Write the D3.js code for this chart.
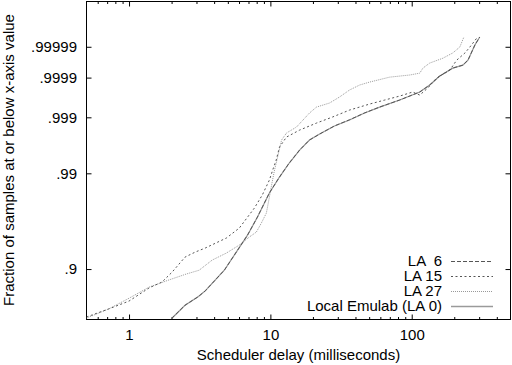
<!DOCTYPE html>
<html><head><meta charset="utf-8">
<script src="https://cdn.jsdelivr.net/npm/d3@7/dist/d3.min.js"></script>
<style>
body{margin:0;background:#fff}
svg{display:block;font-family:"Liberation Sans",Arial,Helvetica,sans-serif}
</style>
</head><body>
<svg id="chart" width="512" height="365"></svg>
<script>
// ---- data (x = scheduler delay in ms, p = fraction of samples at or below x) ----
const la6 = [
  [2.0,0.800],[2.49,0.830],[3.08,0.848],[3.46,0.860],[4.72,0.898],[6.87,0.947],
  [8.09,0.965],[9.84,0.9816],[11.6,0.9887],[13.6,0.9930],[16.1,0.99570],[18.9,0.99715],
  [22.3,0.99780],[28.4,0.99848],[36.3,0.99887],[46.4,0.99920],[59.3,0.999413],
  [82.2,0.999602],[114,0.999751],[134,0.999838],[158,0.999910],[195,0.999948],
  [230,0.999958],[250,0.999971],[280,0.9999914],[303,0.9999957]
];
const la15 = [
  [0.5,0.8035],[0.72,0.822],[1.0,0.839],[1.39,0.866],[1.71,0.877],[2.02,0.895],
  [2.49,0.9188],[2.94,0.926],[3.46,0.9315],[4.88,0.944],[6.03,0.9549],[7.70,0.9721],
  [8.77,0.9805],[9.84,0.98755],[10.5,0.99164],[11.0,0.99372],[11.6,0.99619],[13.0,0.99749],
  [16.1,0.99816],[21.2,0.998676],[27.5,0.999014],[36.3,0.999311],[50.4,0.999502],
  [64.4,0.999602],[82.2,0.999683],[101.6,0.999751],[114,0.999701],[130,0.999805],
  [150,0.999897],[186,0.999940],[208,0.999971],[238,0.9999834],[258,0.9999898],[289,0.9999953]
];
const la27 = [
  [0.5,0.801],[0.72,0.822],[1.0,0.845],[1.39,0.8675],[1.92,0.881],[2.54,0.8915],
  [3.13,0.898],[3.88,0.9144],[4.88,0.9246],[6.03,0.9354],[7.10,0.9452],[7.96,0.9507],
  [8.63,0.9597],[9.37,0.9684],[9.84,0.9793],[10.2,0.98545],[10.7,0.99105],[11.0,0.9930],
  [12.0,0.99715],[13.0,0.99790],[15.3,0.99840],[18.9,0.999195],[21.2,0.999413],
  [26.2,0.999529],[30.8,0.999664],[36.3,0.999779],[42.8,0.999838],[50.4,0.999866],
  [69.8,0.999903],[96.8,0.999916],[114,0.999926],[120,0.999948],[134,0.999964],
  [166,0.999975],[195,0.9999834],[219,0.9999898],[234,0.9999957]
];
const local0 = [
  [2.0,0.800],[2.49,0.830],[3.08,0.848],[3.46,0.860],[4.72,0.898],[6.87,0.947],
  [8.09,0.965],[9.84,0.9816],[11.6,0.9887],[13.6,0.9930],[16.1,0.99570],[18.9,0.99715],
  [22.3,0.99780],[28.4,0.99848],[36.3,0.998857],[46.4,0.999195],[59.3,0.999413],
  [82.2,0.999602],[114,0.999751],[134,0.999838],[158,0.999910],[195,0.999948],
  [230,0.999958],[250,0.999971],[280,0.9999914],[303,0.9999957]
];
const seriesNames = ["LA  6", "LA 15", "LA 27", "Local Emulab (LA 0)"];
const xMajorTicks = [1, 10, 100];
const xMinorTicks = [0.6,0.7,0.8,0.9,2,3,4,5,6,7,8,9,20,30,40,50,60,70,80,90,200,300,400];
const yTickFractions = [0.9, 0.99, 0.999, 0.9999, 0.99999];
const yTickLabels = [".9", ".99", ".999", ".9999", ".99999"];
const xDomain = [0.5, 500];
const yNinesDomain = [0.694, 6.94];   // -log10(1-p) at bottom and top of the frame

// ---- layout ----
const L = 86.5, R = 510.5, T = 1.5, B = 319.5;
const svg = d3.select("#chart");
const nines = p => -Math.log10(1 - p);
const x = d3.scaleLog().domain(xDomain).range([L, R]);
const yN = d3.scaleLog().domain(yNinesDomain).range([B, T]);
const y = p => yN(nines(p));

svg.append("rect").attr("width",512).attr("height",365).attr("fill","#fff");

svg.append("defs").append("clipPath").attr("id","clip")
  .append("rect").attr("x",L).attr("y",T).attr("width",R-L).attr("height",B-T);

function styleAxis(g){
  g.select(".domain").remove();
  g.selectAll("line").attr("stroke","#000").attr("stroke-width",1);
  g.selectAll("text").attr("font-size",15).attr("fill","#000")
   .attr("font-family",'"Liberation Sans",Arial,sans-serif');
}
// bottom axis
svg.append("g").attr("transform",`translate(0,${B})`)
  .call(d3.axisBottom(x).tickValues(xMajorTicks).tickFormat(d3.format("d")).tickSize(-5).tickPadding(10))
  .call(styleAxis);
svg.append("g").attr("transform",`translate(0,${B})`)
  .call(d3.axisBottom(x).tickValues(xMinorTicks).tickFormat("").tickSize(-2.5))
  .call(styleAxis);
// top axis (mirror)
svg.append("g").attr("transform",`translate(0,${T})`)
  .call(d3.axisTop(x).tickValues(xMajorTicks).tickFormat("").tickSize(-5))
  .call(styleAxis);
svg.append("g").attr("transform",`translate(0,${T})`)
  .call(d3.axisTop(x).tickValues(xMinorTicks).tickFormat("").tickSize(-2.5))
  .call(styleAxis);
// left axis
svg.append("g").attr("transform",`translate(${L},0)`)
  .call(d3.axisLeft(yN).tickValues(yTickFractions.map(nines))
     .tickFormat((d,i)=>yTickLabels[i]).tickSize(-5).tickPadding(9.5))
  .call(styleAxis);
// right axis (mirror)
svg.append("g").attr("transform",`translate(${R},0)`)
  .call(d3.axisRight(yN).tickValues(yTickFractions.map(nines)).tickFormat("").tickSize(-5))
  .call(styleAxis);

// frame
svg.append("rect").attr("x",L).attr("y",T).attr("width",R-L).attr("height",B-T)
  .attr("fill","none").attr("stroke","#000").attr("stroke-width",1);

// lines
const lineStyles = [
  {stroke:"#555", dash:"4,2",   w:1},
  {stroke:"#555", dash:"2,2.5", w:1},
  {stroke:"#999", dash:"1,1",   w:1},
  {stroke:"#9a9a9a", dash:null, w:1.2}
];
const seriesData = [la6, la15, la27, local0];
const line = d3.line().x(d=>x(d[0])).y(d=>y(d[1]));
const plot = svg.append("g").attr("clip-path","url(#clip)");
[3,2,1,0].forEach(i=>{
  const s = lineStyles[i];
  plot.append("path").attr("d",line(seriesData[i])).attr("fill","none")
    .attr("stroke",s.stroke).attr("stroke-width",s.w)
    .attr("stroke-dasharray",s.dash);
});

// legend
const lg = svg.append("g");
seriesNames.forEach((name,i)=>{
  const yy = 261 + i*15;
  lg.append("text").attr("x",442).attr("y",yy+5).attr("text-anchor","end")
    .attr("font-size",15).attr("fill","#000").style("white-space","pre").text(name);
  lg.append("line").attr("x1",451).attr("x2",493).attr("y1",yy+0.5).attr("y2",yy+0.5)
    .attr("stroke",lineStyles[i].stroke).attr("stroke-width",i===3?1.6:1)
    .attr("stroke-dasharray",lineStyles[i].dash);
});

// axis titles
svg.append("text").attr("x",(L+R)/2).attr("y",360).attr("text-anchor","middle")
  .attr("font-size",15).attr("fill","#000").text("Scheduler delay (milliseconds)");
svg.append("text").attr("transform","translate(14,160) rotate(-90)").attr("text-anchor","middle")
  .attr("font-size",15).attr("fill","#000").text("Fraction of samples at or below x-axis value");
</script>
</body></html>
